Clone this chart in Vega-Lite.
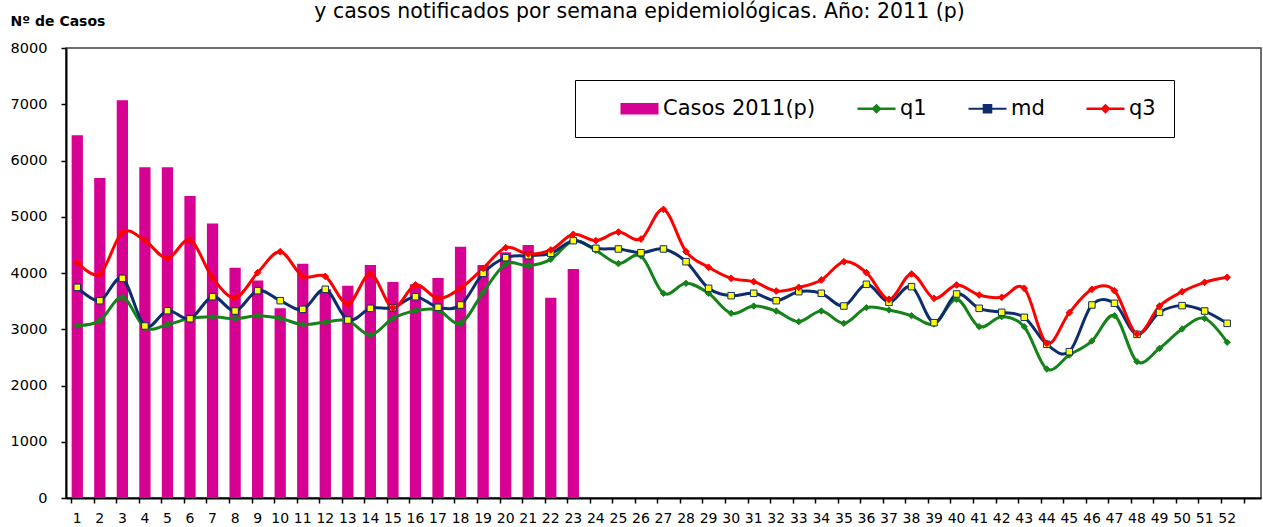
{
  "$schema": "https://vega.github.io/schema/vega-lite/v6.json",
  "width": 1195,
  "height": 450,
  "autosize": {"type": "none"},
  "padding": {"left": 66, "top": 48, "right": 2, "bottom": 29},
  "background": "white",
  "config": {"view": {"stroke": "#404040", "strokeWidth": 1.5}, "font": "DejaVu Sans"},
  "title": {
    "text": "y casos notificados por semana epidemiológicas. Año: 2011 (p)",
    "font": "DejaVu Sans",
    "fontSize": 20.5,
    "fontWeight": "normal",
    "color": "black",
    "anchor": "middle",
    "frame": "group",
    "dx": -24,
    "dy": 8,
    "offset": 0
  },
  "data": {
    "values": [
      {"w": 1, "casos": 6450, "q1": 3064, "md": 3745, "q3": 4190},
      {"w": 2, "casos": 5690, "q1": 3153, "md": 3508, "q3": 3982},
      {"w": 3, "casos": 7070, "q1": 3567, "md": 3905, "q3": 4723},
      {"w": 4, "casos": 5880, "q1": 3028, "md": 3058, "q3": 4575},
      {"w": 5, "casos": 5880, "q1": 3082, "md": 3330, "q3": 4260},
      {"w": 6, "casos": 5370, "q1": 3194, "md": 3188, "q3": 4587},
      {"w": 7, "casos": 4880, "q1": 3224, "md": 3579, "q3": 3917},
      {"w": 8, "casos": 4095, "q1": 3188, "md": 3324, "q3": 3561},
      {"w": 9, "casos": 3865, "q1": 3241, "md": 3686, "q3": 4006},
      {"w": 10, "casos": 3375, "q1": 3194, "md": 3508, "q3": 4379},
      {"w": 11, "casos": 4165, "q1": 3082, "md": 3354, "q3": 3940},
      {"w": 12, "casos": 3710, "q1": 3129, "md": 3710, "q3": 3940},
      {"w": 13, "casos": 3775, "q1": 3153, "md": 3164, "q3": 3449},
      {"w": 14, "casos": 4142, "q1": 2898, "md": 3372, "q3": 3982},
      {"w": 15, "casos": 3840, "q1": 3194, "md": 3384, "q3": 3384},
      {"w": 16, "casos": 3800, "q1": 3330, "md": 3579, "q3": 3787},
      {"w": 17, "casos": 3911, "q1": 3342, "md": 3390, "q3": 3550},
      {"w": 18, "casos": 4468, "q1": 3105, "md": 3431, "q3": 3728},
      {"w": 19, "casos": 4142, "q1": 3656, "md": 3994, "q3": 4083},
      {"w": 20, "casos": 4367, "q1": 4160, "md": 4272, "q3": 4450},
      {"w": 21, "casos": 4498, "q1": 4130, "md": 4308, "q3": 4338},
      {"w": 22, "casos": 3561, "q1": 4243, "md": 4349, "q3": 4409},
      {"w": 23, "casos": 4071, "q1": 4575, "md": 4575, "q3": 4688},
      {"w": 24, "q1": 4402, "md": 4439, "q3": 4575},
      {"w": 25, "q1": 4166, "md": 4427, "q3": 4728},
      {"w": 26, "q1": 4302, "md": 4361, "q3": 4604},
      {"w": 27, "q1": 3639, "md": 4427, "q3": 5131},
      {"w": 28, "q1": 3816, "md": 4201, "q3": 4379},
      {"w": 29, "q1": 3639, "md": 3728, "q3": 4101},
      {"w": 30, "q1": 3283, "md": 3597, "q3": 3905},
      {"w": 31, "q1": 3413, "md": 3639, "q3": 3846},
      {"w": 32, "q1": 3324, "md": 3508, "q3": 3680},
      {"w": 33, "q1": 3135, "md": 3668, "q3": 3745},
      {"w": 34, "q1": 3324, "md": 3639, "q3": 3876},
      {"w": 35, "q1": 3105, "md": 3413, "q3": 4201},
      {"w": 36, "q1": 3384, "md": 3799, "q3": 4006},
      {"w": 37, "q1": 3342, "md": 3479, "q3": 3532},
      {"w": 38, "q1": 3241, "md": 3757, "q3": 3982},
      {"w": 39, "q1": 3093, "md": 3117, "q3": 3550},
      {"w": 40, "q1": 3532, "md": 3627, "q3": 3787},
      {"w": 41, "q1": 3046, "md": 3372, "q3": 3609},
      {"w": 42, "q1": 3224, "md": 3301, "q3": 3567},
      {"w": 43, "q1": 3046, "md": 3212, "q3": 3728},
      {"w": 44, "q1": 2293, "md": 2732, "q3": 2750},
      {"w": 45, "q1": 2542, "md": 2601, "q3": 3295},
      {"w": 46, "q1": 2791, "md": 3431, "q3": 3710},
      {"w": 47, "q1": 3241, "md": 3461, "q3": 3686},
      {"w": 48, "q1": 2424, "md": 2910, "q3": 2916},
      {"w": 49, "q1": 2661, "md": 3301, "q3": 3413},
      {"w": 50, "q1": 3004, "md": 3420, "q3": 3668},
      {"w": 51, "q1": 3194, "md": 3324, "q3": 3834},
      {"w": 52, "q1": 2768, "md": 3105, "q3": 3923}
    ]
  },
  "transform": [
    {"fold": ["casos", "q1", "md", "q3"], "as": ["s", "v"]},
    {"filter": "isValid(datum.v)"}
  ],
  "encoding": {
    "x": {
      "field": "w",
      "type": "ordinal",
      "scale": {
        "domain": [1,2,3,4,5,6,7,8,9,10,11,12,13,14,15,16,17,18,19,20,21,22,23,24,25,26,27,28,29,30,31,32,33,34,35,36,37,38,39,40,41,42,43,44,45,46,47,48,49,50,51,52,53],
        "paddingInner": 0.5,
        "paddingOuter": 0.25
      },
      "axis": {
        "title": null,
        "labelAngle": 0,
        "labelOverlap": false,
        "labelExpr": "datum.value == 53 ? '' : datum.label",
        "labelFont": "DejaVu Sans",
        "labelFontSize": 14,
        "labelColor": "black",
        "labelPadding": 8,
        "bandPosition": 0,
        "domainColor": "black",
        "domainWidth": 2,
        "tickColor": "black",
        "tickSize": 5,
        "tickWidth": 1.5,
        "grid": false
      }
    },
    "y": {
      "field": "v",
      "type": "quantitative",
      "scale": {"domain": [0, 8000], "nice": false},
      "axis": {
        "values": [0, 1000, 2000, 3000, 4000, 5000, 6000, 7000, 8000],
        "format": "d",
        "grid": false,
        "title": "Nº de Casos",
        "titleFont": "DejaVu Sans",
        "titleFontSize": 14,
        "titleFontWeight": "bold",
        "titleColor": "black",
        "titleAngle": 0,
        "titleAlign": "left",
        "titleBaseline": "alphabetic",
        "titleX": -56,
        "titleY": -23,
        "labelFont": "DejaVu Sans",
        "labelFontSize": 14.5,
        "labelColor": "black",
        "labelPadding": 14,
        "domainColor": "black",
        "domainWidth": 2,
        "tickColor": "black",
        "tickSize": 5,
        "tickWidth": 1.5
      }
    }
  },
  "layer": [
    {
      "transform": [{"filter": "datum.s == 'casos'"}],
      "mark": {"type": "bar"},
      "encoding": {
        "color": {
          "field": "s",
          "type": "nominal",
          "scale": {"domain": ["casos", "q1", "md", "q3"], "range": ["#D60093", "#15821A", "#0D2D6C", "#FF0000"]},
          "legend": {
            "orient": "none",
            "legendX": 509,
            "legendY": 32,
            "direction": "horizontal",
            "title": null,
            "labelExpr": "datum.value == 'casos' ? 'Casos 2011(p)' : datum.label",
            "labelFont": "DejaVu Sans",
            "labelFontSize": 21,
            "labelColor": "black",
            "symbolSize": 1444,
            "symbolOffset": 36,
            "columnPadding": 14,
            "labelOffset": 13,
            "padding": 18,
            "strokeColor": "black",
            "fillColor": "white",
            "cornerRadius": 0,
            "encode": {
              "symbols": {
                "update": {
                  "shape": {"signal": "datum.value == 'casos' ? 'M-1,-0.3H1V0.3H-1Z' : (datum.value == 'md' ? 'M-1,0H-0.2M0.2,0H1M-0.2,-0.2H0.2V0.2H-0.2Z' : 'M-1,0H1M-0.17,0L0,-0.17L0.17,0L0,0.17Z')"},
                  "fill": {"signal": "datum.value == 'casos' ? '#D60093' : (datum.value == 'md' ? '#FFFF00' : (datum.value == 'q1' ? '#15821A' : '#FF0000'))"},
                  "stroke": {"signal": "datum.value == 'casos' ? '#D60093' : (datum.value == 'md' ? '#0D2D6C' : (datum.value == 'q1' ? '#15821A' : '#FF0000'))"},
                  "strokeWidth": {"signal": "datum.value == 'casos' ? 0 : (datum.value == 'md' ? 2 : 2.5)"},
                  "opacity": {"value": 1},
                  "fillOpacity": {"value": 1},
                  "strokeOpacity": {"value": 1},
                  "size": {"value": 1444}
                }
              }
            }
          }
        }
      }
    },
    {
      "transform": [{"filter": "datum.s != 'casos'"}],
      "mark": {"type": "line", "interpolate": "cardinal", "strokeWidth": 3},
      "encoding": {
        "color": {"field": "s", "type": "nominal"}
      }
    },
    {
      "transform": [{"filter": "datum.s != 'casos'"}],
      "mark": {"type": "point", "filled": true, "opacity": 1, "strokeWidth": 1},
      "encoding": {
        "shape": {"field": "s", "type": "nominal", "scale": {"domain": ["q1", "md", "q3"], "range": ["diamond", "square", "diamond"]}, "legend": null},
        "fill": {"field": "s", "type": "nominal", "scale": {"domain": ["q1", "md", "q3"], "range": ["#15821A", "#FFFF00", "#FF0000"]}, "legend": null},
        "stroke": {"field": "s", "type": "nominal", "scale": {"domain": ["q1", "md", "q3"], "range": ["#15821A", "#0D2D6C", "#FF0000"]}, "legend": null},
        "size": {"field": "s", "type": "nominal", "scale": {"domain": ["q1", "md", "q3"], "range": [40, 45, 40]}, "legend": null}
      }
    }
  ]
}
